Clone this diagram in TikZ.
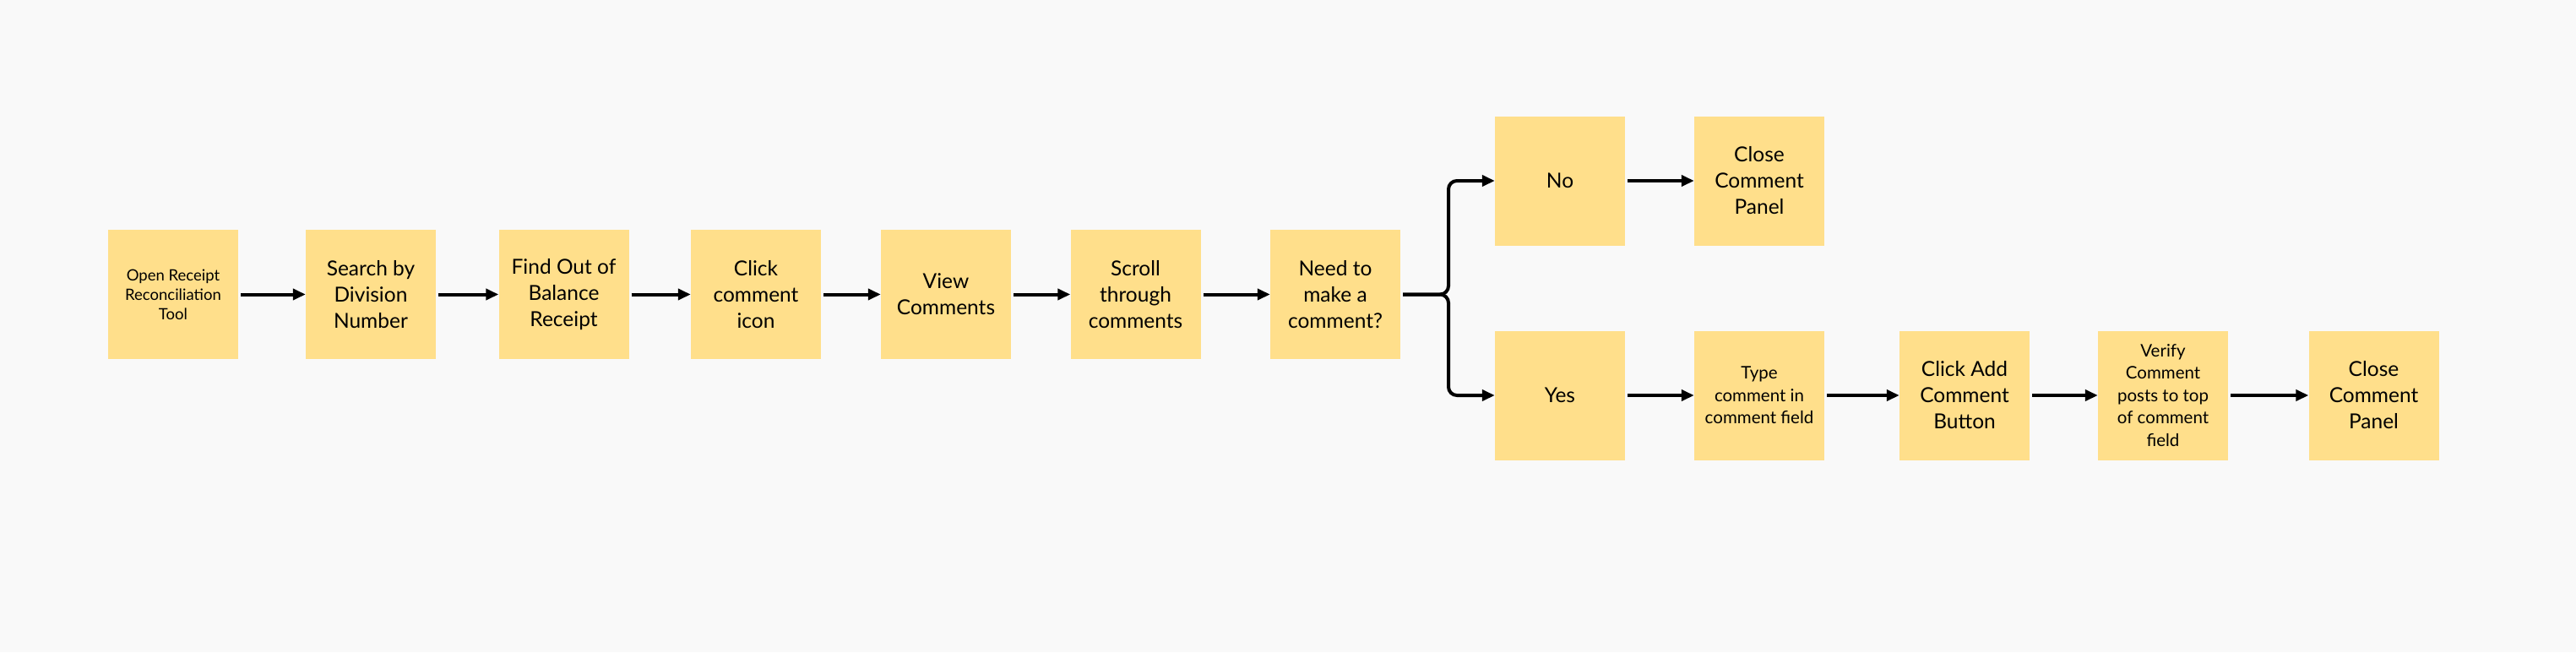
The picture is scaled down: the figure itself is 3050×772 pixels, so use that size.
\documentclass[tikz,border=0pt]{standalone}
\usepackage{fontspec}
\setmainfont{Lato}
\usetikzlibrary{arrows.meta}
\definecolor{bg}{HTML}{F9F9F9}
\definecolor{sticky}{HTML}{FFDF8B}
\tikzset{
  card/.style={fill=sticky, draw=none, minimum width=154pt, minimum height=153pt, inner sep=0pt, align=center, font=\fontsize{24.5}{31}\selectfont},
  smallcard/.style={card, font=\fontsize{20.5}{26.5}\selectfont},
  tinycard/.style={card, font=\fontsize{18.5}{23}\selectfont},
  flow/.style={line width=4pt, -{Triangle[length=15pt,width=13pt]}, shorten <=3pt},
}
\begin{document}
\begin{tikzpicture}[x=1pt,y=-1pt]
\fill[bg] (0,0) rectangle (3050,772);
\useasboundingbox (0,0) rectangle (3050,772);
\node[tinycard] (b1) at (205,348.5) {Open Receipt\\Reconciliation\\Tool};
\node[card] (b2) at (439,348.5) {Search by\\Division\\Number};
\node[card] (b3) at (667.5,348.5) {Find Out of\\Balance\\Receipt};
\node[card] (b4) at (895,348.5) {Click\\comment\\icon};
\node[card] (b5) at (1120,348.5) {View\\Comments};
\node[card] (b6) at (1344.5,348.5) {Scroll\\through\\comments};
\node[card] (b7) at (1581,348.5) {Need to\\make a\\comment?};
\node[card] (no) at (1847,214) {No};
\node[card] (close1) at (2083,214) {Close\\Comment\\Panel};
\node[card] (yes) at (1847,468) {Yes};
\node[smallcard] (type) at (2083,468) {Type\\comment in\\comment field};
\node[card] (add) at (2326,468) {Click Add\\Comment\\Button};
\node[smallcard] (verify) at (2561,468) {Verify\\Comment\\posts to top\\of comment\\field};
\node[card] (close2) at (2810.5,468) {Close\\Comment\\Panel};
\coordinate (j) at (1715,348.5);
\draw[flow] (b1) -- (b2);
\draw[flow] (b2) -- (b3);
\draw[flow] (b3) -- (b4);
\draw[flow] (b4) -- (b5);
\draw[flow] (b5) -- (b6);
\draw[flow] (b6) -- (b7);
\draw[flow, rounded corners=10pt] (b7.east) -- (j) |- (no.west);
\draw[flow, rounded corners=10pt] (b7.east) -- (j) |- (yes.west);
\draw[flow] (no) -- (close1);
\draw[flow] (yes) -- (type);
\draw[flow] (type) -- (add);
\draw[flow] (add) -- (verify);
\draw[flow] (verify) -- (close2);
\end{tikzpicture}
\end{document}
